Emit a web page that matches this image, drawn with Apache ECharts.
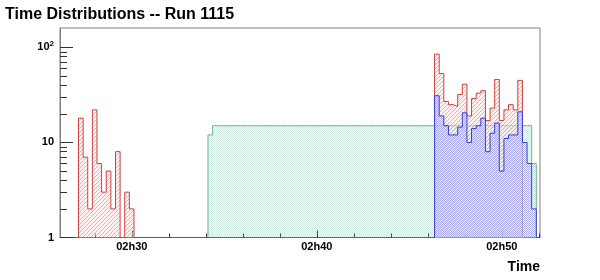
<!DOCTYPE html>
<html><head><meta charset="utf-8">
<script src="https://cdn.jsdelivr.net/npm/echarts@6/dist/echarts.min.js"></script>
<style>html,body{margin:0;padding:0;background:#fff}#c{width:600px;height:280px}</style>
</head><body><div id="c"></div>
<script>
// ---- data ----
const titleText = 'Time Distributions -- Run 1115';
const xTitle = 'Time';
const binSeconds = 15;
const axisStart = '02:26:07';
const axisEnd = '02:52:04';
const minorTickTimes = ['02:28:00','02:30:00','02:32:00','02:34:00','02:36:00','02:38:00','02:40:00','02:42:00','02:44:00','02:46:00','02:48:00','02:50:00','02:52:00'];
const majorTickTimes = ['02:30:00','02:40:00','02:50:00'];
const xTickLabels = ['02h30','02h40','02h50'];
const yMin = 1, yMax = 160;
const yMajorTicks = [1, 10, 100];
const yMinorTicks = [2,3,4,5,6,7,8,9,20,30,40,50,60,70,80,90];

const redLeftFirstBin = '02:27:07';
const redLeftCounts = [18, 7, 2, 22, 6, 3, 5, 2, 8, 0, 3, 2];
const redRightFirstBin = '02:46:22';
const redRightCounts = [85, 53, 27, 25, 24, 32, 41, 19, 29, 33, 35, 17, 23, 46, 17, 22, 25, 22, 45];
const blueFirstBin = '02:46:22';
const blueCounts = [31, 19, 15, 12, 12, 14.5, 20.5, 10, 14, 15, 18, 8, 12.5, 16, 5, 11, 12, 12, 21, 10, 6, 2];
const greenFirstBin = '02:34:07';
const greenCounts = [12,
  15,15,15,15,15,15,15,15,15,15,15,15,15,15,15,15,15,15,15,15,15,15,15,
  15,15,15,15,15,15,15,15,15,15,15,15,15,15,15,15,15,15,15,15,15,15,15,
  15,15,15,15,15,15,15,15,15,15,15,15,15,15,15,15,15,15,15,15,15,15,15,
  6];

// ---- helpers ----
const toSec = s => { const p = s.split(':').map(Number); return p[0]*3600 + p[1]*60 + p[2]; };
function histPoints(start, counts) {
  const t0 = toSec(start);
  const v = c => (c > 0 ? c : yMin);
  const pts = [[t0, yMin]];
  counts.forEach((c, i) => pts.push([t0 + i*binSeconds, v(c)]));
  const tEnd = t0 + counts.length*binSeconds;
  pts.push([tEnd, v(counts[counts.length-1])]);
  pts.push([tEnd, yMin]);
  return pts;
}
function pattern(kind) {
  const cv = document.createElement('canvas');
  const ctx = cv.getContext('2d');
  if (kind === 'red') {
    cv.width = 4; cv.height = 4;
    ctx.fillStyle = 'rgba(255,228,228,1)';
    ctx.fillRect(0, 0, 4, 4);
    ctx.fillStyle = 'rgba(228,110,110,1)';
    for (let i = 0; i < 4; i++) ctx.fillRect(3 - i, i, 1, 1);
  } else if (kind === 'blue') {
    cv.width = 2; cv.height = 2;
    ctx.fillStyle = 'rgba(236,236,252,0.6)';
    ctx.fillRect(0, 0, 2, 2);
    ctx.fillStyle = 'rgba(120,120,222,0.55)';
    ctx.fillRect(0, 0, 1, 1); ctx.fillRect(1, 1, 1, 1);
  } else {
    cv.width = 2; cv.height = 2;
    ctx.fillStyle = 'rgba(130,195,165,0.38)';
    ctx.fillRect(0, 0, 1, 1); ctx.fillRect(1, 1, 1, 1);
  }
  return { image: cv, repeat: 'repeat' };
}
const hh = t => {
  const s = Math.round(t);
  const h = Math.floor(s/3600), m = Math.floor((s%3600)/60);
  return String(h).padStart(2,'0') + 'h' + String(m).padStart(2,'0');
};
const FONT = 'Liberation Sans, Arial, Helvetica, sans-serif';

function histSeries(name, start, counts, color, pat, z, areaOpacity) {
  return {
    name, type: 'line', step: 'end', symbol: 'none', z,
    xAxisIndex: 0, yAxisIndex: 0,
    data: histPoints(start, counts),
    lineStyle: { color, width: 1 },
    areaStyle: { origin: 'start', color: pattern(pat), opacity: areaOpacity },
    clip: true, animation: false
  };
}

const chart = echarts.init(document.getElementById('c'), null, { renderer: 'canvas' });
const xCommon = {
  type: 'value', min: toSec(axisStart), max: toSec(axisEnd), position: 'bottom',
  splitLine: { show: false }
};
const yCommon = { type: 'log', logBase: 10, min: yMin, max: yMax, position: 'left', splitLine: { show: false } };
chart.setOption({
  animation: false,
  title: { text: titleText, left: 0, top: 2,
    textStyle: { fontSize: 16, fontWeight: 'bold', color: '#000', fontFamily: FONT } },
  grid: { left: 60, top: 28, width: 480, height: 209.5, show: true, borderColor: '#808080', borderWidth: 1, backgroundColor: 'transparent' },
  xAxis: [
    Object.assign({}, xCommon, {
      axisLine: { show: true, lineStyle: { color: '#5050c8', width: 1 } },
      axisTick: { show: true, inside: true, length: 4, customValues: minorTickTimes.map(toSec), lineStyle: { color: '#333' } },
      axisLabel: { show: false }
    }),
    Object.assign({}, xCommon, {
      axisLine: { show: false },
      axisTick: { show: true, inside: true, length: 7, customValues: majorTickTimes.map(toSec), lineStyle: { color: '#333' } },
      axisLabel: { show: true, customValues: majorTickTimes.map(toSec), margin: 4,
        formatter: v => { const i = majorTickTimes.map(toSec).indexOf(Math.round(v)); return i >= 0 ? xTickLabels[i] : hh(v); },
        color: '#000', fontWeight: 'bold', fontSize: 11, fontFamily: FONT }
    })
  ],
  yAxis: [
    Object.assign({}, yCommon, {
      axisLine: { show: true, lineStyle: { color: '#808080', width: 1 } },
      axisTick: { show: true, inside: true, length: 13, customValues: yMajorTicks, lineStyle: { color: '#333' } },
      axisLabel: { show: true, customValues: yMajorTicks, margin: 6,
        formatter: v => { const r = Math.round(v); return r === 100 ? '{b|10}{s|2}' : '{b|' + r + '}'; },
        rich: {
          b: { fontWeight: 'bold', fontSize: 11, color: '#000', fontFamily: FONT },
          s: { fontWeight: 'bold', fontSize: 8, color: '#000', fontFamily: FONT, padding: [0, 0, 7, 0] }
        } }
    }),
    Object.assign({}, yCommon, {
      axisLine: { show: false },
      axisTick: { show: true, inside: true, length: 7, customValues: yMinorTicks, lineStyle: { color: '#333' } },
      axisLabel: { show: false }
    })
  ],
  graphic: [{
    type: 'text', right: 60, top: 260,
    style: { text: xTitle, font: 'bold 14px ' + FONT, fill: '#000', textAlign: 'right' }
  }],
  series: [
    histSeries('green', greenFirstBin, greenCounts, '#6fb08f', 'green', 2, 1),
    histSeries('redLeft', redLeftFirstBin, redLeftCounts, '#d04040', 'red', 3, 0.55),
    histSeries('redRight', redRightFirstBin, redRightCounts, '#d04040', 'red', 4, 0.55),
    histSeries('blue', blueFirstBin, blueCounts, '#3c3cd2', 'blue', 5, 1)
  ]
});
</script></body></html>
